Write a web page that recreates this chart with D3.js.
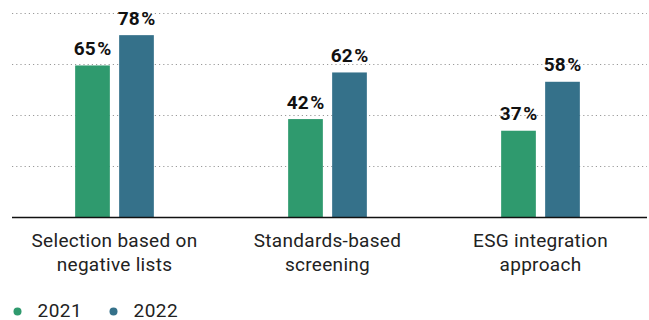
<!DOCTYPE html>
<html><head><meta charset="utf-8">
<script src="https://cdn.jsdelivr.net/npm/d3@7"></script>
<style>
html,body{margin:0;padding:0;background:#fff;}
svg{display:block;font-family:"Roboto","Liberation Sans",sans-serif;}
</style></head>
<body><svg id="chart" width="649" height="320"></svg>
<script>
const categories = [["Selection based on","negative lists"],["Standards-based","screening"],["ESG integration","approach"]];
const seriesNames = ["2021","2022"];
const values2021 = [65,42,37];
const values2022 = [78,62,58];
const colors = ["#2f9a6e","#35718a"];

const svg = d3.select("#chart");
const baseY = 217, topY = 13;
const y = d3.scaleLinear().domain([0,87.5]).range([baseY, topY]);
const x0 = d3.scaleBand().domain(d3.range(categories.length)).range([8,647]);
const barW = 34.7, gap = 9.3;
const x1 = d3.scaleBand().domain(seriesNames).range([-(barW+gap/2), barW+gap/2]).paddingInner(gap/(barW+gap));

// gridlines
const ticks = d3.range(1,5).map(i => i*87.5/4);
svg.append("g").selectAll("line").data(ticks).join("line")
  .attr("x1",12).attr("x2",647)
  .attr("y1",d=>Math.round(y(d))+0.5).attr("y2",d=>Math.round(y(d))+0.5)
  .attr("stroke","#9a9a9a").attr("stroke-width",1).attr("stroke-dasharray","1.2,3");

const data = [values2021, values2022];
const g = svg.append("g");
seriesNames.forEach((s,si)=>{
  categories.forEach((c,ci)=>{
    const v = data[si][ci];
    const cx = x0(ci) + x0.bandwidth()/2 + x1(s);
    g.append("rect").attr("x",cx).attr("y",y(v)).attr("width",x1.bandwidth())
      .attr("height",baseY-y(v)).attr("fill",colors[si]);
    const lt = g.append("text").attr("x",cx + x1.bandwidth()/2).attr("y",y(v)-10.5)
      .attr("text-anchor","middle").attr("font-size",19).attr("font-weight","bold")
      .attr("fill","#111");
    lt.append("tspan").text(v);
    lt.append("tspan").attr("dx",1.5).text("%");
  });
});

// baseline
svg.append("line").attr("x1",12).attr("x2",647).attr("y1",baseY+0.5).attr("y2",baseY+0.5)
  .attr("stroke","#111").attr("stroke-width",1.5);

// category labels
categories.forEach((lines,ci)=>{
  const t = svg.append("text").attr("text-anchor","middle").attr("font-size",19)
    .attr("letter-spacing",0.3).attr("fill","#222");
  lines.forEach((l,li)=>{
    t.append("tspan").attr("x",x0(ci)+x0.bandwidth()/2).attr("y",247+li*24).text(l);
  });
});

// legend
const legX = [17.5, 113.5];
seriesNames.forEach((s,i)=>{
  svg.append("circle").attr("cx",legX[i]).attr("cy",311.5).attr("r",4).attr("fill",colors[i]);
  svg.append("text").attr("x",legX[i]+20).attr("y",316.5).attr("font-size",19)
    .attr("letter-spacing",0.5).attr("fill","#222").text(s);
});
</script></body></html>
